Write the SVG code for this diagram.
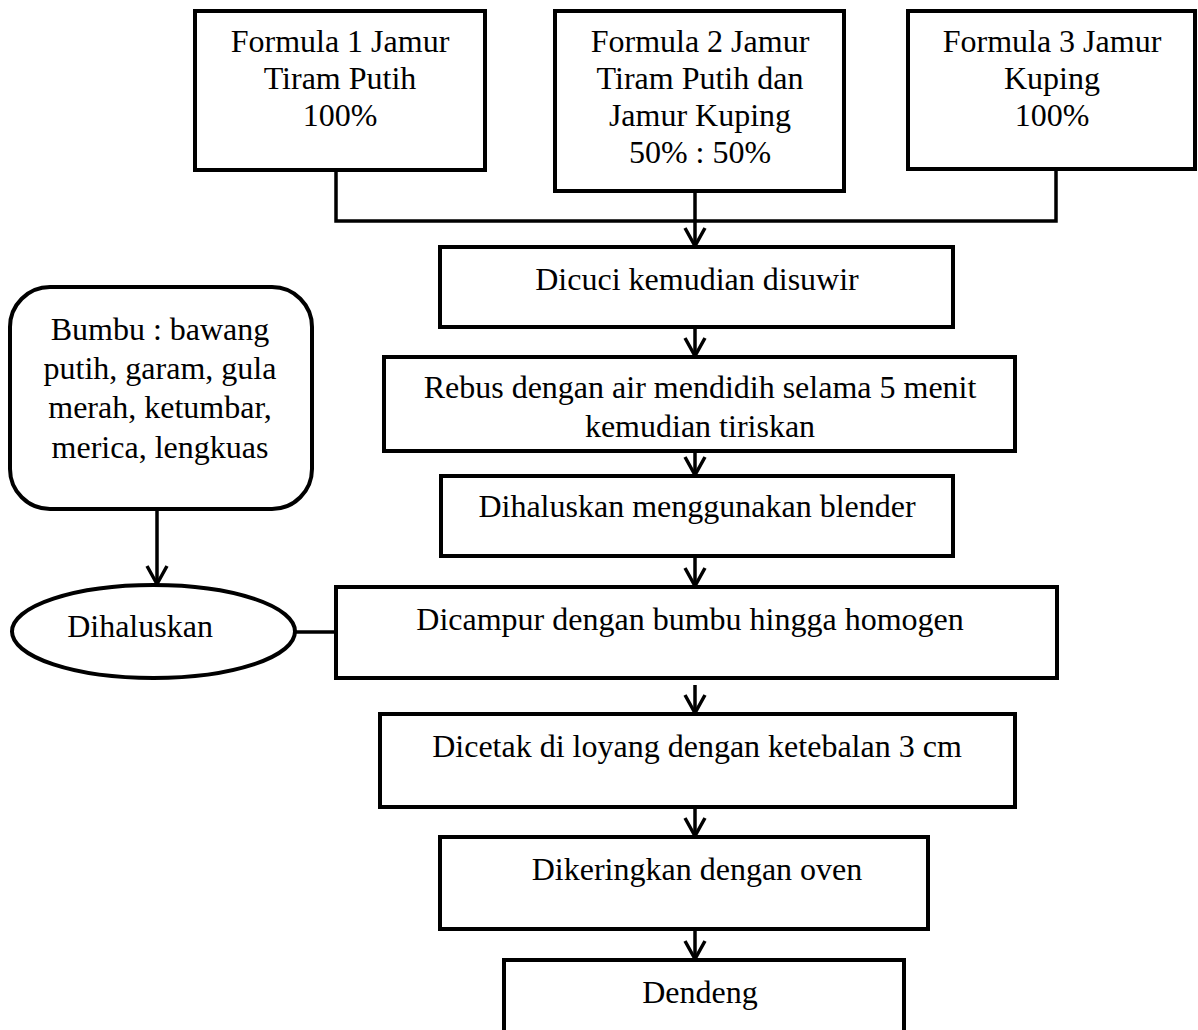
<svg xmlns="http://www.w3.org/2000/svg" width="1198" height="1030" viewBox="0 0 1198 1030">
<style>
.box{fill:#fff;stroke:#000;stroke-width:4}
.ln{fill:none;stroke:#000;stroke-width:3.5}
text{font-family:"Liberation Serif","Times New Roman",serif;font-size:32px;fill:#000;text-anchor:middle}
</style>
<defs>
<marker id="arr" markerUnits="userSpaceOnUse" markerWidth="30" markerHeight="30" viewBox="-22 -15 30 30" refX="0" refY="0" orient="auto">
<path d="M-18,-10 L0,0 L-18,10" fill="none" stroke="#000" stroke-width="3.5"/>
</marker>
</defs>
<rect width="1198" height="1030" fill="#fff"/>
<g id="connectors">
<path class="ln" d="M336,170 V221 H1056 V169"/>
<line class="ln" x1="695" y1="191" x2="695" y2="246" marker-end="url(#arr)"/>
<line class="ln" x1="695" y1="327" x2="695" y2="356" marker-end="url(#arr)"/>
<line class="ln" x1="695" y1="451" x2="695" y2="475" marker-end="url(#arr)"/>
<line class="ln" x1="695" y1="556" x2="695" y2="586" marker-end="url(#arr)"/>
<line class="ln" x1="695" y1="685" x2="695" y2="713" marker-end="url(#arr)"/>
<line class="ln" x1="695" y1="807" x2="695" y2="836" marker-end="url(#arr)"/>
<line class="ln" x1="695" y1="929" x2="695" y2="959" marker-end="url(#arr)"/>
<line class="ln" x1="157" y1="509" x2="157" y2="584" marker-end="url(#arr)"/>
<line class="ln" x1="295" y1="632" x2="336" y2="632"/>
</g>
<g id="formula1">
<rect class="box" x="195" y="11" width="290" height="159"/>
<text x="340" y="52">Formula 1 Jamur</text>
<text x="340" y="89">Tiram Putih</text>
<text x="340" y="126">100%</text>
</g>
<g id="formula2">
<rect class="box" x="555" y="11" width="289" height="180"/>
<text x="700" y="52">Formula 2 Jamur</text>
<text x="700" y="89">Tiram Putih dan</text>
<text x="700" y="126">Jamur Kuping</text>
<text x="700" y="163">50% : 50%</text>
</g>
<g id="formula3">
<rect class="box" x="908" y="11" width="287" height="158"/>
<text x="1052" y="52">Formula 3 Jamur</text>
<text x="1052" y="89">Kuping</text>
<text x="1052" y="126">100%</text>
</g>
<g id="dicuci">
<rect class="box" x="440" y="247" width="513" height="80"/>
<text x="697" y="290">Dicuci kemudian disuwir</text>
</g>
<g id="rebus">
<rect class="box" x="384" y="357" width="631" height="94"/>
<text x="700" y="398">Rebus dengan air mendidih selama 5 menit</text>
<text x="700" y="437">kemudian tiriskan</text>
</g>
<g id="blender">
<rect class="box" x="441" y="476" width="512" height="80"/>
<text x="697" y="517">Dihaluskan menggunakan blender</text>
</g>
<g id="bumbu">
<rect class="box" x="10" y="287" width="302" height="222" rx="40" ry="40"/>
<text x="160" y="340">Bumbu : bawang</text>
<text x="160" y="379">putih, garam, gula</text>
<text x="160" y="418">merah, ketumbar,</text>
<text x="160" y="458">merica, lengkuas</text>
</g>
<g id="dihaluskan">
<ellipse class="box" cx="153.5" cy="631.5" rx="141.5" ry="46.5"/>
<text x="140" y="637">Dihaluskan</text>
</g>
<g id="dicampur">
<rect class="box" x="336" y="587" width="721" height="91"/>
<text x="690" y="630">Dicampur dengan bumbu hingga homogen</text>
</g>
<g id="dicetak">
<rect class="box" x="380" y="714" width="635" height="93"/>
<text x="697" y="757">Dicetak di loyang dengan ketebalan 3 cm</text>
</g>
<g id="dikeringkan">
<rect class="box" x="440" y="837" width="488" height="92"/>
<text x="697" y="880">Dikeringkan dengan oven</text>
</g>
<g id="dendeng">
<rect class="box" x="504" y="960" width="400" height="90"/>
<text x="700" y="1003">Dendeng</text>
</g>
</svg>
